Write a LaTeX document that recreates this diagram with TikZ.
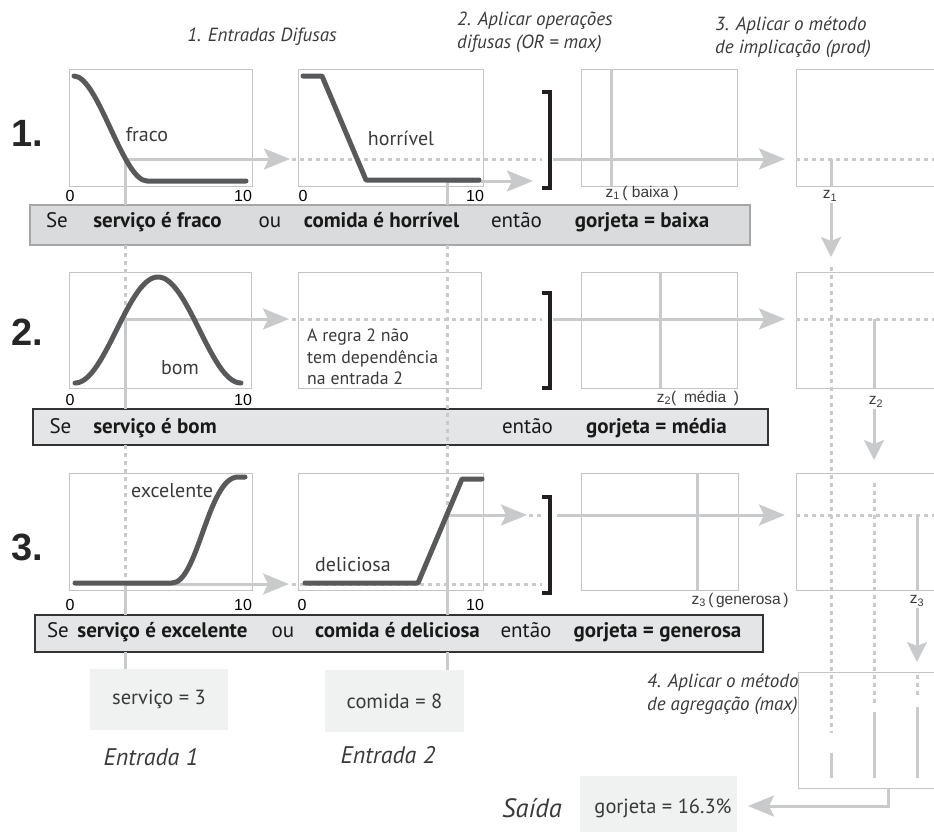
\documentclass[tikz,border=0pt]{standalone}
\usepackage{fontspec}
\setmainfont{PT Sans}
\newfontfamily\arialfont{Liberation Sans}
\usetikzlibrary{arrows.meta}

\definecolor{guidegray}{HTML}{C9CACB}
\definecolor{boxgray}{HTML}{C4C4C4}
\definecolor{curvegray}{HTML}{58595B}
\definecolor{bargray}{HTML}{E4E5E6}
\definecolor{barone}{HTML}{DADBDC}
\definecolor{barborder}{HTML}{333333}
\definecolor{inputfill}{HTML}{F0F1F1}
\definecolor{textgray}{HTML}{3A3A3A}
\definecolor{bracketblack}{HTML}{231F20}

\begin{document}
\begin{tikzpicture}[x=1pt,y=-1pt,
  plotbox/.style={draw=boxgray,line width=1pt,inner sep=0pt,outer sep=0pt,anchor=north west},
  rulebar/.style={fill=bargray,draw=barborder,line width=1.6pt,inner sep=0pt,outer sep=0pt,anchor=north west},
  inbox/.style={fill=inputfill,inner sep=0pt,outer sep=0pt,anchor=north west},
  guide/.style={draw=guidegray,line width=3pt},
  dotguide/.style={draw=guidegray,line width=3pt,dash pattern=on 4pt off 4pt},
  flow/.style={guide,-{Stealth[length=26pt,width=21pt,inset=5pt]}},
  flowv/.style={guide,-{Stealth[length=20pt,width=20pt,inset=4pt]}},
  mf/.style={draw=curvegray,line width=5pt,line cap=round,line join=round},
  bracket/.style={draw=bracketblack,line width=4.5pt},
  rownum/.style={font=\arialfont\bfseries\fontsize{38}{40}\selectfont,text=black!85,inner sep=0pt},
  mflab/.style={font=\fontsize{20}{24}\selectfont,text=textgray,inner sep=0pt},
  axisnum/.style={font=\arialfont\fontsize{16}{19}\selectfont,text=black,inner sep=0pt},
  zlab/.style={font=\arialfont\fontsize{15.5}{18}\selectfont,text=textgray,inner sep=0pt},
  bartext/.style={font=\fontsize{21}{24}\selectfont,text=black!90,inner sep=0pt,anchor=base},
  barbold/.style={bartext,font=\bfseries\fontsize{21}{24}\selectfont},
  stagetext/.style={font=\itshape\fontsize{19}{23}\selectfont,text=textgray,inner sep=0pt,align=left,anchor=west},
  note/.style={font=\fontsize{17.8}{21.5}\selectfont,text=textgray,inner sep=0pt,align=left,anchor=west},
  valtext/.style={font=\fontsize{20.5}{24}\selectfont,text=textgray,inner sep=0pt},
  caption/.style={font=\itshape\fontsize{24}{28}\selectfont,text=textgray,inner sep=0pt}
]
\useasboundingbox (0,0) rectangle (934,831);

% ---------- frames of the membership plots ----------
\node[plotbox,minimum width=183pt,minimum height=117pt] (A1) at (69,69) {};
\node[plotbox,minimum width=185pt,minimum height=117pt] (A2) at (298,69) {};
\node[plotbox,minimum width=156pt,minimum height=117pt] (A3) at (581,69) {};
\node[plotbox,minimum width=160pt,minimum height=117pt] (A4) at (796,69) {};
\node[plotbox,minimum width=182pt,minimum height=116pt] (B1) at (69,272) {};
\node[plotbox,minimum width=183pt,minimum height=116pt] (B2) at (298,272) {};
\node[plotbox,minimum width=156pt,minimum height=116pt] (B3) at (581,272) {};
\node[plotbox,minimum width=160pt,minimum height=116pt] (B4) at (796,272) {};
\node[plotbox,minimum width=183pt,minimum height=117pt] (C1) at (69,473) {};
\node[plotbox,minimum width=185pt,minimum height=117pt] (C2) at (298,473) {};
\node[plotbox,minimum width=157pt,minimum height=117pt] (C3) at (581,473) {};
\node[plotbox,minimum width=160pt,minimum height=117pt] (C4) at (796,473) {};
\node[plotbox,minimum width=160pt,minimum height=116pt] (D) at (798,672) {};

% input and output value boxes
\node[inbox,minimum width=138pt,minimum height=61pt] (S) at (90,669) {};
\node[inbox,minimum width=139pt,minimum height=62pt] (F) at (325,670) {};
\node[inbox,minimum width=157pt,minimum height=60pt] (O) at (580,776) {};

% crossing points of the inputs, OR outputs and implication cuts
\coordinate (i1r1) at (125,159);
\coordinate (i2r1) at (447,181);
\coordinate (i1r2) at (125,319);
\coordinate (i1r3) at (125,584);
\coordinate (i2r3) at (447,515);
\coordinate (k1) at (550,159);
\coordinate (k2) at (550,319);
\coordinate (k3) at (550,515);
\coordinate (z1) at (831,159);
\coordinate (z2) at (874,319);
\coordinate (z3) at (917,515);
\coordinate (a1) at (831,733);
\coordinate (a2) at (874,707);
\coordinate (a3) at (917,697);

% rule bars
\path (30,205) node[rulebar,fill=barone,draw=black!35,line width=1.2pt,minimum width=720pt,minimum height=40pt] (R1) {};
\path (33,409) node[rulebar,minimum width=735pt,minimum height=36pt] (R2) {};
\path (35,615) node[rulebar,minimum width=728pt,minimum height=37pt] (R3) {};

% ---------- vertical guides of the two inputs ----------
\draw[guide] (i1r1) -- (i1r1 |- R1.north);
\draw[dotguide] (i1r1 |- R1.south) -- (i1r2);
\draw[guide] (i1r2) -- (i1r2 |- R2.north);
\draw[dotguide] (i1r2 |- R2.south) -- (i1r3);
\draw[guide] (i1r3) -- (i1r3 |- R3.north);
\draw[guide] (i1r3 |- R3.south) -- (i1r3 |- S.north);

\draw[guide] (i2r1) -- (i2r1 |- R1.north);
\draw[dotguide] (i2r1 |- R1.south) -- (i2r3);
\draw[guide] (i2r3) -- (i2r3 |- R3.north);
\draw[guide] (i2r3 |- R3.south) -- (i2r3 |- F.north);

% ---------- rule 1 ----------
\draw[flow] (i1r1) -- ([xshift=-8pt]A2.west |- i1r1);
\draw[dotguide] ([xshift=-6pt]A2.west |- i1r1) -- ([xshift=-8pt]k1);
\draw[flow] (i2r1) -- ([xshift=-17pt]k1 |- i2r1);
\draw[flow] ([xshift=3pt]k1) -- ([xshift=-11pt]A4.west |- k1);
\draw[dotguide] (A4.west |- k1) -- ([xshift=140pt]A4.west |- k1);
\draw[guide] ([xshift=30pt]A3.north west) -- ([xshift=30pt]A3.south west);
\draw[guide] (z1) -- (z1 |- A4.south);

% ---------- rule 2 ----------
\draw[flow] (i1r2) -- ([xshift=-9pt]B2.west |- i1r2);
\draw[dotguide] ([xshift=-6pt]B2.west |- i1r2) -- ([xshift=-8pt]k2);
\draw[flow] ([xshift=3pt]k2) -- ([xshift=-11pt]B4.west |- k2);
\draw[dotguide] (B4.west |- k2) -- ([xshift=140pt]B4.west |- k2);
\draw[guide] ([xshift=79pt]B3.north west) -- ([xshift=79pt]B3.south west);
\draw[guide] (z2) -- (z2 |- B4.south);

% ---------- rule 3 ----------
\draw[flow] (i1r3) -- ([xshift=-9pt]C2.west |- i1r3);
\draw[dotguide] ([xshift=-6pt]C2.west |- i1r3) -- ([xshift=-8pt]k3 |- i1r3);
\draw[flow] (i2r3) -- ([xshift=-23pt]k3);
\draw[dotguide] ([xshift=-21pt]k3) -- ([xshift=-8pt]k3);
\draw[flow] ([xshift=7pt]k3) -- ([xshift=-11pt]C4.west |- k3);
\draw[dotguide] (C4.west |- k3) -- ([xshift=140pt]C4.west |- k3);
\draw[guide] ([xshift=116pt]C3.north west) -- ([xshift=116pt]C3.south west);
\draw[guide] (z3) -- (z3 |- C4.south);

% ---------- implication outputs carried down to aggregation ----------
\node[zlab] (z1lab) at (830,196) {z\textsubscript{1}};
\node[zlab] (z2lab) at (876,402) {z\textsubscript{2}};
\node[zlab] (z3lab) at (917,601) {z\textsubscript{3}};
\draw[flowv] ([yshift=-1pt]z1lab.south -| z1) -- ([yshift=15pt]B4.north -| z1);
\draw[flowv] ([yshift=-1pt]z2lab.south -| z2) -- ([yshift=13pt]C4.north -| z2);
\draw[flowv] ([yshift=-1pt]z3lab.south -| z3) -- ([yshift=10pt]D.north -| z3);
\draw[dotguide] ([yshift=5pt]B4.north -| z1) -- (a1);
\draw[dotguide] ([yshift=-10pt]C4.north -| z2) -- (a2);
\draw[dotguide] ([yshift=-3pt]D.north -| z3) -- (a3);
\draw[guide] ([yshift=10pt]D.south -| z1) -- ++(0,-25);
\draw[guide] ([yshift=10pt]D.south -| z2) -- ++(0,-66);
\draw[guide] ([yshift=10pt]D.south -| z3) -- ++(0,-71);
\draw[flow] ([xshift=90pt]D.south west) |- ([xshift=11pt]O.east);

% ---------- OR brackets ----------
\draw[bracket] (542,92) -| (550,188) -- (542,188);
\draw[bracket] (542,293) -| (550,388) -- (542,388);
\draw[bracket] (542,497) -| (550,593) -- (542,593);

% ---------- membership functions ----------
\draw[mf] (74,76) .. controls (98,76) and (123,181) .. (147,181) -- (246,181);
\draw[mf] (303,76) -- (322,76) -- (366,180) -- (479,180);
\draw[mf] plot[domain=75:241,samples=90,smooth] (\x,{383-53*(1+cos(180*(\x-158)/83))});
\draw[mf] (75,583) -- (172,583) .. controls (198,583) and (208,477) .. (238,477) -- (245,477);
\draw[mf] (305,583) -- (418,583) -- (462,479) -- (482,479);

% ---------- labels ----------
\node[rownum] (n1) at (27,133) {1.};
\node[rownum] (n2) at (27,332) {2.};
\node[rownum] (n3) at (27,547) {3.};

\node[mflab] (lfraco) at (147,135) {fraco};
\node[mflab] (lhorr) at (401,138) {horrível};
\node[mflab] (lbom) at (180,368) {bom};
\node[mflab] (lexc) at (172,491) {excelente};
\node[mflab] (ldel) at (353,565) {deliciosa};

\node[axisnum] (x10) at (70,196) {0};
\node[axisnum] (x11) at (243,196) {10};
\node[axisnum] (x20) at (303,196) {0};
\node[axisnum] (x21) at (475,196) {10};
\node[axisnum] (x30) at (70,400) {0};
\node[axisnum] (x31) at (243,400) {10};
\node[axisnum] (x50) at (70,605) {0};
\node[axisnum] (x51) at (243,605) {10};
\node[axisnum] (x60) at (302,605) {0};
\node[axisnum] (x61) at (475,605) {10};

\node[zlab] (o1) at (642,193) {z\textsubscript{1}\,( baixa )};
\node[zlab] (o2) at (698,398) {z\textsubscript{2}(\enspace média\enspace )};
\node[zlab] (o3) at (740,600) {z\textsubscript{3}\,(\,generosa\,)};

\node[note] (nota) at (307,357) {A regra 2 não\\tem dependência\\na entrada 2};

\node[stagetext,anchor=center] (h1) at (262,37) {1. Entradas Difusas};
\node[stagetext] (h2) at (457,32) {2. Aplicar operações\\difusas (OR = max)};
\node[stagetext] (h3) at (715,37) {3. Aplicar o método\\de implicação (prod)};
\node[stagetext] (h4) at (647,694) {4. Aplicar o método\\de agregação (max)};

% rule texts
\node[bartext] (r1a) at (57,227) {Se};
\node[barbold] (r1b) at (157.5,227) {serviço é fraco};
\node[bartext] (r1c) at (270,227) {ou};
\node[barbold] (r1d) at (381.5,227) {comida é horrível};
\node[bartext] (r1e) at (516.5,227) {então};
\node[barbold] (r1f) at (642,227) {gorjeta = baixa};

\node[bartext] (r2a) at (60.5,433) {Se};
\node[barbold] (r2b) at (155,433) {serviço é bom};
\node[bartext] (r2e) at (527.5,433) {então};
\node[barbold] (r2f) at (656.5,433) {gorjeta = média};

\node[bartext] (r3a) at (58,637) {Se};
\node[barbold] (r3b) at (162.5,637) {serviço é excelente};
\node[bartext] (r3c) at (283,637) {ou};
\node[barbold] (r3d) at (397.5,637) {comida é deliciosa};
\node[bartext] (r3e) at (526,637) {então};
\node[barbold] (r3f) at (657.5,637) {gorjeta = generosa};

% input and output values
\node[valtext] (vs) at (S.center) {serviço = 3};
\node[valtext] (vf) at (F.center) {comida = 8};
\node[valtext] (vo) at (663,808) {gorjeta = 16.3\%};
\node[caption] (e1) at (151,757) {Entrada 1};
\node[caption] (e2) at (388,755) {Entrada 2};
\node[caption,font=\itshape\fontsize{26.5}{30}\selectfont] (sd) at (532,808) {Saída};
\end{tikzpicture}
\end{document}
